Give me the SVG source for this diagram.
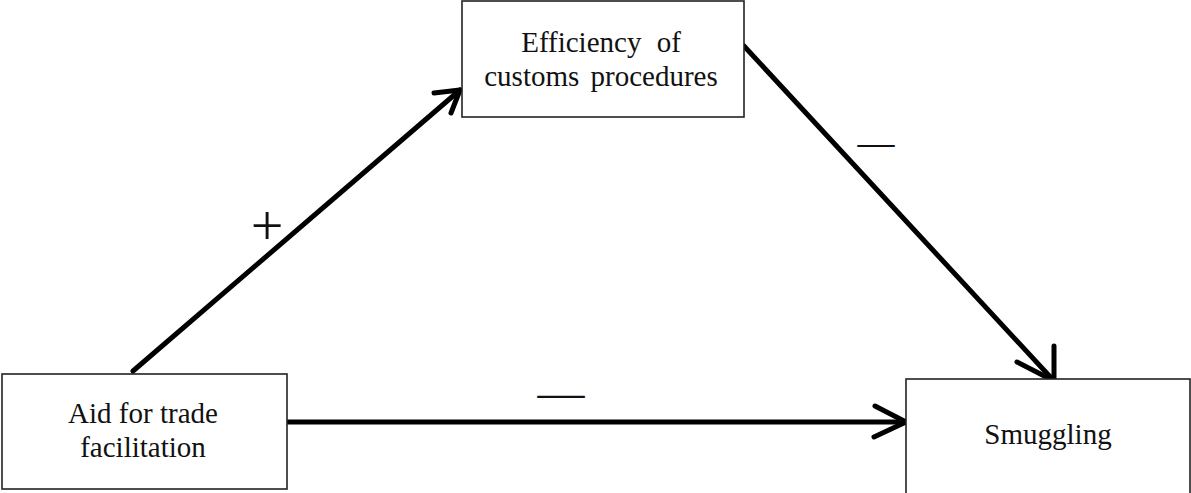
<svg xmlns="http://www.w3.org/2000/svg" width="1191" height="493" viewBox="0 0 1191 493">
<style>
.box{fill:#fff;stroke:#222;stroke-width:1.6}
.lbl{font-family:"Liberation Serif","Times New Roman",serif;font-size:29px;fill:#111;text-anchor:middle}
.sign{font-family:"Liberation Serif","Times New Roman",serif;fill:#111;text-anchor:middle}
.conn{fill:none;stroke:#000;stroke-width:5;stroke-linecap:round;stroke-linejoin:round}
</style>
<rect width="1191" height="493" fill="#fff"/>
<g id="connectors">
<line class="conn" x1="133" y1="371" x2="460" y2="90"/>
<polyline class="conn" points="434,93 460,90 451,113"/>
<line class="conn" x1="744" y1="46" x2="1054" y2="381"/>
<polyline class="conn" points="1054,346 1054,381 1017,362"/>
<line class="conn" x1="288" y1="422" x2="906" y2="422"/>
<polyline class="conn" points="875,406 906,422 874,437"/>
</g>
<g id="labels">
<text class="sign" x="267" y="245" font-size="58">+</text>
<text class="sign" x="876" y="155" font-size="37">—</text>
<text class="sign" x="561" y="408" font-size="47">—</text>
</g>
<g id="efficiency">
<rect class="box" x="462" y="1" width="282" height="116"/>
<text class="lbl" x="601" y="52" word-spacing="8">Efficiency of</text>
<text class="lbl" x="601" y="86" word-spacing="4">customs procedures</text>
</g>
<g id="aid">
<rect class="box" x="2" y="374" width="285" height="115"/>
<text class="lbl" x="143" y="423">Aid for trade</text>
<text class="lbl" x="143" y="457">facilitation</text>
</g>
<g id="smuggling">
<rect class="box" x="906" y="379" width="284" height="115"/>
<text class="lbl" x="1048" y="444">Smuggling</text>
</g>
</svg>
